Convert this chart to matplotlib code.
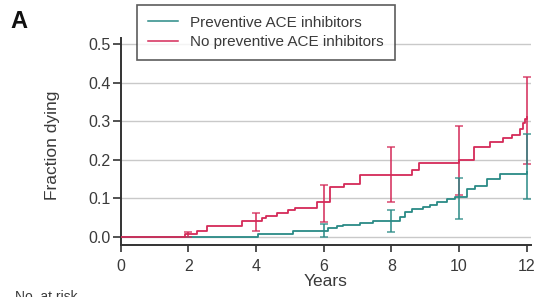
import matplotlib
matplotlib.use("Agg")
import matplotlib.pyplot as plt
from matplotlib.lines import Line2D
import numpy as np

plt.rcParams['font.family'] = ['Liberation Sans', 'DejaVu Sans']

# Kaplan-Meier style step data (years, cumulative fraction dying)
no_ace_t = [0, 1.9, 2.25, 2.54, 3.58, 4.17, 4.31, 4.61, 4.95, 5.15, 5.79, 6.2, 6.6,
            7.07, 8.6, 8.83, 10.0, 10.45, 10.92, 11.31, 11.56, 11.8, 11.88, 11.95, 12.0]
no_ace_y = [0, 0.008, 0.014, 0.027, 0.042, 0.048, 0.054, 0.061, 0.07, 0.074, 0.089, 0.128, 0.137,
            0.161, 0.173, 0.191, 0.2, 0.232, 0.245, 0.256, 0.265, 0.28, 0.294, 0.305, 0.312]

ace_t = [0, 4.07, 5.1, 6.14, 6.38, 6.57, 7.07, 7.47, 8.26, 8.41, 8.6, 8.95, 9.15, 9.35,
         9.64, 9.88, 10.23, 10.47, 10.82, 11.21, 12.0]
ace_y = [0, 0.007, 0.015, 0.022, 0.028, 0.031, 0.035, 0.04, 0.05, 0.064, 0.072, 0.078, 0.083, 0.089,
         0.097, 0.103, 0.124, 0.132, 0.15, 0.163, 0.167]

# Confidence intervals
no_ace_ci_t = [2, 4, 6, 8, 10, 12]
no_ace_ci_c = [0.004, 0.042, 0.089, 0.165, 0.2, 0.312]
no_ace_ci_lo = [0.0, 0.016, 0.038, 0.089, 0.108, 0.19]
no_ace_ci_hi = [0.012, 0.062, 0.134, 0.232, 0.288, 0.415]

ace_ci_t = [6, 8, 10, 12]
ace_ci_c = [0.017, 0.04, 0.103, 0.167]
ace_ci_lo = [0.0, 0.011, 0.046, 0.097]
ace_ci_hi = [0.032, 0.069, 0.152, 0.267]

x_ticks = [0, 2, 4, 6, 8, 10, 12]
y_ticks = [0.0, 0.1, 0.2, 0.3, 0.4, 0.5]
y_labels = ['0.0', '0.1', '0.2', '0.3', '0.4', '0.5']

red = '#d42a58'
teal = '#2a8a86'
txt = '#3a3a3a'

fig = plt.figure(figsize=(5.43, 2.97), dpi=100)
ax = fig.add_axes([120.7/543, 1 - 245/297, (531 - 120.7)/543, (245 - 38)/297])
ax.set_xlim(0, 12.13)
ax.set_ylim(-0.0216, 0.516)

for yv in y_ticks:
    ax.axhline(yv, color='#c9c9c9', lw=1.0, zorder=0)

ax.plot(ace_t, ace_y, drawstyle='steps-post', color=teal, lw=1.3, zorder=2)
ax.plot(no_ace_t, no_ace_y, drawstyle='steps-post', color=red, lw=1.3, zorder=3)

def ebars(t, c, lo, hi, col, z):
    c = np.array(c); lo = np.array(lo); hi = np.array(hi)
    ax.errorbar(t, c, yerr=[c - lo, hi - c], fmt='none', ecolor=col, elinewidth=1.3,
                capsize=3, capthick=1.1, alpha=0.85, zorder=z)

ebars(no_ace_ci_t, no_ace_ci_c, no_ace_ci_lo, no_ace_ci_hi, red, 4)
ebars(ace_ci_t, ace_ci_c, ace_ci_lo, ace_ci_hi, teal, 5)

for s in ['top', 'right']:
    ax.spines[s].set_visible(False)
for s in ['left', 'bottom']:
    ax.spines[s].set_color('#333333')
    ax.spines[s].set_linewidth(1.4)

ax.set_xticks(x_ticks)
ax.set_yticks(y_ticks)
ax.set_yticklabels(y_labels)
ax.tick_params(axis='both', colors='#333333', labelcolor=txt, labelsize=11.5, width=1.2)
ax.tick_params(axis='y', length=6, pad=1.5)
ax.tick_params(axis='x', length=5, pad=5)

ax.set_ylabel('Fraction dying', fontsize=12.5, color=txt, labelpad=20)
ax.yaxis.label.set_y(0.48)
ax.set_xlabel('Years', fontsize=12.5, color=txt, labelpad=0)

handles = [Line2D([], [], color=teal, lw=1.1), Line2D([], [], color=red, lw=1.1)]
leg = fig.legend(handles, ['Preventive ACE inhibitors', 'No preventive ACE inhibitors'],
                 loc='upper left', bbox_to_anchor=(137/543, 1 - 5/297), fontsize=11,
                 frameon=True, fancybox=False, edgecolor='#333333', handlelength=2.0,
                 borderpad=0.7, labelspacing=0.37, handletextpad=0.8, borderaxespad=0)
leg.get_frame().set_linewidth(1.2)
for t in leg.get_texts():
    t.set_color(txt)

fig.text(10/543, 1 - 10/297, 'A', fontsize=17, fontweight='bold', va='top', ha='left', color='#111111')
fig.text(15/543, 1 - 290/297, 'No. at risk', fontsize=10, va='top', ha='left', color=txt)

fig.savefig('out.png', dpi=100)
